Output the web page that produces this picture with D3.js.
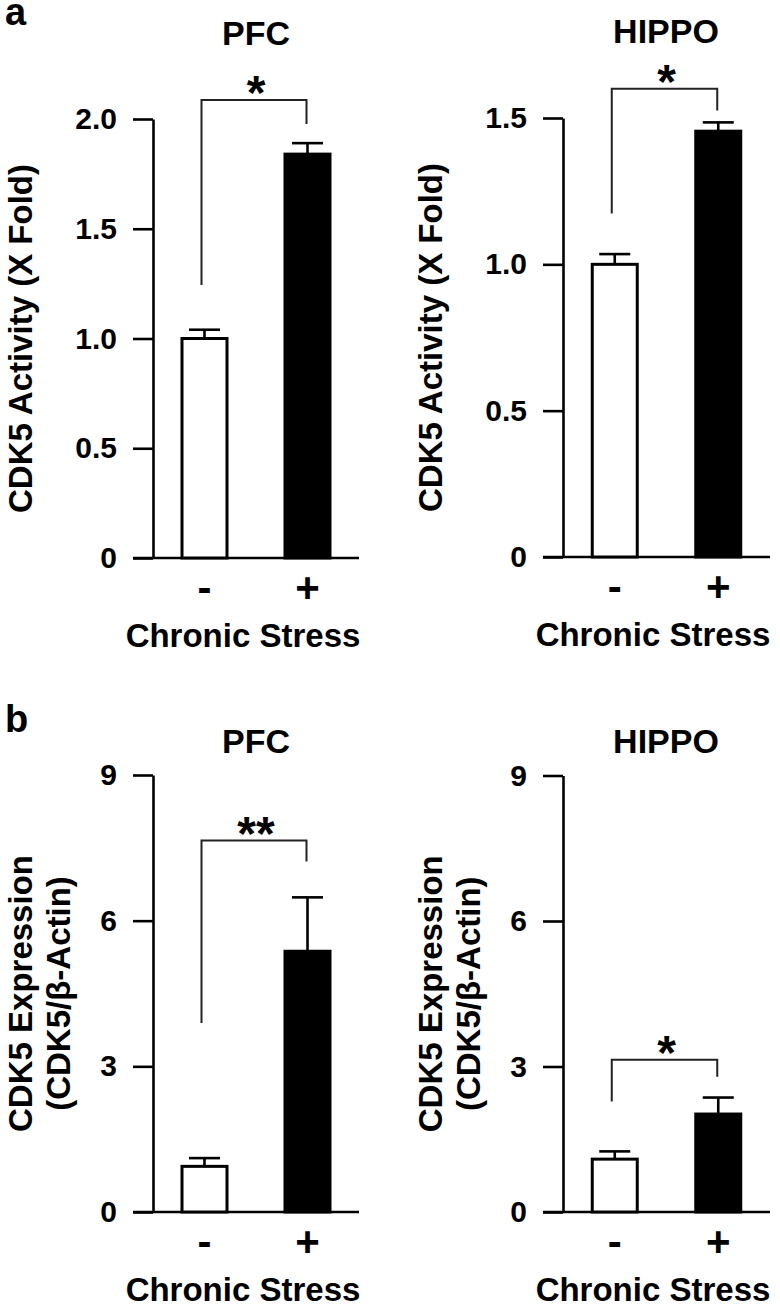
<!DOCTYPE html>
<html>
<head>
<meta charset="utf-8">
<script src="https://cdn.jsdelivr.net/npm/d3@7"></script>
<style>
  html, body { margin: 0; padding: 0; background: #fff; }
  svg text { font-family: "Liberation Sans", Arial, Helvetica, sans-serif; font-weight: bold; fill: #000; }
</style>
</head>
<body>
<svg id="chart" width="780" height="1306"></svg>
<script>
// ---------------- DATA ----------------
const groups = ["-", "+"];
const panelTitles = ["PFC", "HIPPO", "PFC", "HIPPO"];
const panelLetters = ["a", "b"];
const xAxisLabel = "Chronic Stress";
const yLabelActivity = ["CDK5 Activity (X Fold)"];
const yLabelExpression = ["CDK5 Expression", "(CDK5/β-Actin)"];

const pfcActivity = [1.00, 1.84];
const pfcActivityErr = [0.04, 0.05];
const hippoActivity = [1.00, 1.455];
const hippoActivityErr = [0.035, 0.03];
const pfcExpression = [0.94, 5.37];
const pfcExpressionErr = [0.17, 1.11];
const hippoExpression = [1.09, 2.02];
const hippoExpressionErr = [0.16, 0.34];

const activityTicksPFC = [0, 0.5, 1.0, 1.5, 2.0];
const activityTicksHIPPO = [0, 0.5, 1.0, 1.5];
const expressionTicks = [0, 3, 6, 9];

const sigLabels = ["*", "*", "**", "*"];
// bracket: [left leg bottom, top, right leg bottom] in data units
const sigBrackets = [[1.244, 2.087, 1.977], [1.174, 1.600, 1.526], [3.89, 7.65, 7.22], [2.28, 3.14, 2.79]];

// ---------------- LAYOUT ----------------
const layout = [
  { x0: 153, x1: 359, yTop: 119, yBase: 558, titleY: 45 },
  { x0: 563, x1: 770, yTop: 118, yBase: 557, titleY: 43 },
  { x0: 153, x1: 359, yTop: 775, yBase: 1212, titleY: 753 },
  { x0: 563, x1: 770, yTop: 775.5, yBase: 1212, titleY: 753 }
];

const panels = [
  { values: pfcActivity, errs: pfcActivityErr, ticks: activityTicksPFC, fmt: d => d === 0 ? "0" : d.toFixed(1), ylab: yLabelActivity },
  { values: hippoActivity, errs: hippoActivityErr, ticks: activityTicksHIPPO, fmt: d => d === 0 ? "0" : d.toFixed(1), ylab: yLabelActivity },
  { values: pfcExpression, errs: pfcExpressionErr, ticks: expressionTicks, fmt: d3.format("d"), ylab: yLabelExpression },
  { values: hippoExpression, errs: hippoExpressionErr, ticks: expressionTicks, fmt: d3.format("d"), ylab: yLabelExpression }
];

const svg = d3.select("#chart");
const tickLen = 20;
const barW = 45;
const capW = 31;

panels.forEach((p, i) => {
  const L = layout[i];
  const g = svg.append("g");
  const y = d3.scaleLinear().domain([0, d3.max(p.ticks)]).range([L.yBase, L.yTop]);
  const x = d3.scalePoint().domain(groups).range([L.x0, L.x1]).padding(0.5);

  // y axis
  const yAxis = d3.axisLeft(y).tickValues(p.ticks).tickFormat(p.fmt).tickSize(tickLen).tickSizeOuter(0).tickPadding(16);
  const ya = g.append("g").attr("transform", `translate(${L.x0},0)`).call(yAxis);
  ya.select(".domain").attr("stroke", "#000").attr("stroke-width", 2.6);
  ya.selectAll(".tick line").attr("stroke", "#000").attr("stroke-width", 2.6);
  ya.selectAll(".tick text").style("font-size", "30px").attr("fill", "#000");

  // baseline
  g.append("line")
    .attr("x1", L.x0 - tickLen).attr("x2", L.x1)
    .attr("y1", y(0)).attr("y2", y(0))
    .attr("stroke", "#000").attr("stroke-width", 2.6);

  // error bars (upper only)
  groups.forEach((grp, k) => {
    const cx = x(grp);
    const top = y(p.values[k] + p.errs[k]);
    g.append("line").attr("x1", cx).attr("x2", cx).attr("y1", y(p.values[k])).attr("y2", top)
      .attr("stroke", "#000").attr("stroke-width", 2.6);
    g.append("line").attr("x1", cx - capW / 2).attr("x2", cx + capW / 2).attr("y1", top).attr("y2", top)
      .attr("stroke", "#000").attr("stroke-width", 2.6);
  });

  // bars
  g.selectAll("rect.bar").data(p.values).enter().append("rect")
    .attr("class", "bar")
    .attr("x", (d, k) => x(groups[k]) - barW / 2)
    .attr("width", barW)
    .attr("y", d => y(d))
    .attr("height", d => y(0) - y(d))
    .attr("fill", (d, k) => k === 0 ? "#fff" : "#000")
    .attr("stroke", "#000").attr("stroke-width", 3);

  // x category labels
  groups.forEach((grp) => {
    g.append("text").attr("x", x(grp)).attr("y", L.yBase + 44)
      .attr("text-anchor", "middle").style("font-size", "42px").text(grp);
  });

  // x axis label
  g.append("text").attr("x", L.x0 + 90).attr("y", L.yBase + 89)
    .attr("text-anchor", "middle").style("font-size", "33px").text(xAxisLabel);

  // title
  g.append("text").attr("x", L.x0 + 103).attr("y", L.titleY)
    .attr("text-anchor", "middle").style("font-size", "34px").text(panelTitles[i]);

  // y label
  p.ylab.forEach((line, j) => {
    const bx = L.x0 - 121 + j * 38;
    const cy = (L.yTop + L.yBase) / 2;
    g.append("text").attr("transform", `translate(${bx},${cy}) rotate(-90)`)
      .attr("text-anchor", "middle").style("font-size", "33px").text(line);
  });

  // significance bracket
  const br = sigBrackets[i];
  const xl = x(groups[0]) - 3, xr = x(groups[1]) - 1;
  g.append("path")
    .attr("d", `M${xl},${y(br[0])}V${y(br[1])}H${xr}V${y(br[2])}`)
    .attr("fill", "none").attr("stroke", "#222").attr("stroke-width", 2);
  g.append("text").attr("x", (xl + xr) / 2 + 2).attr("y", y(br[1]) + 9)
    .attr("text-anchor", "middle").style("font-size", "48px").text(sigLabels[i]);
});

// panel letters
svg.append("text").attr("x", 5).attr("y", 25).style("font-size", "38px").text(panelLetters[0]);
svg.append("text").attr("x", 5).attr("y", 732).style("font-size", "38px").text(panelLetters[1]);
</script>
</body>
</html>
